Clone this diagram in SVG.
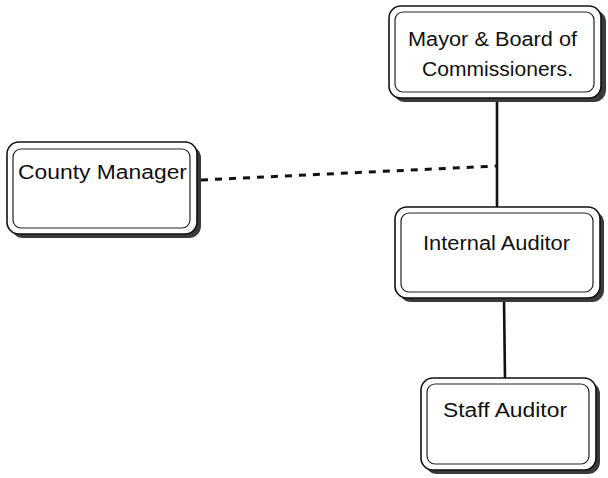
<svg xmlns="http://www.w3.org/2000/svg" width="608" height="478" viewBox="0 0 608 478">
<style>
.shadow{fill:#3a3a3a}
.outer{fill:#fff;stroke:#111;stroke-width:1.6}
.inner{fill:none;stroke:#222;stroke-width:1.2}
.lbl{font-family:"Liberation Sans",Arial,sans-serif;font-size:20px;fill:#111}
.conn{stroke:#111;stroke-width:2.6;fill:none}
.dash{stroke:#111;stroke-width:3;fill:none;stroke-dasharray:7 7}
</style>
<rect width="608" height="478" fill="#fff"/>
<g id="connectors">
<line class="conn" x1="497" y1="99" x2="497" y2="208"/>
<line class="conn" x1="504" y1="299" x2="505" y2="379"/>
<path class="dash" d="M201 180 L496 166"/>
</g>
<g id="mayor">
<rect class="shadow" x="393" y="10" width="213" height="92" rx="12"/>
<rect class="outer" x="389" y="6" width="212" height="92" rx="12"/>
<rect class="inner" x="395" y="12" width="199" height="80" rx="8"/>
<text class="lbl" x="408" y="46" textLength="169" lengthAdjust="spacingAndGlyphs">Mayor &amp; Board of</text>
<text class="lbl" x="422" y="76" textLength="151" lengthAdjust="spacingAndGlyphs">Commissioners.</text>
</g>
<g id="county-manager">
<rect class="shadow" x="11" y="146" width="190" height="92" rx="12"/>
<rect class="outer" x="7" y="142" width="190" height="92" rx="12"/>
<rect class="inner" x="13" y="149" width="177" height="79" rx="8"/>
<text class="lbl" x="18" y="179" textLength="169" lengthAdjust="spacingAndGlyphs">County Manager</text>
</g>
<g id="internal-auditor">
<rect class="shadow" x="399" y="211" width="205" height="91" rx="12"/>
<rect class="outer" x="395" y="207" width="205" height="91" rx="12"/>
<rect class="inner" x="401" y="213" width="192" height="79" rx="8"/>
<text class="lbl" x="423" y="250" textLength="147" lengthAdjust="spacingAndGlyphs">Internal Auditor</text>
</g>
<g id="staff-auditor">
<rect class="shadow" x="425" y="382" width="175" height="92" rx="12"/>
<rect class="outer" x="421" y="378" width="175" height="92" rx="12"/>
<rect class="inner" x="427" y="384" width="162" height="80" rx="8"/>
<text class="lbl" x="443" y="417" textLength="124" lengthAdjust="spacingAndGlyphs">Staff Auditor</text>
</g>
</svg>
